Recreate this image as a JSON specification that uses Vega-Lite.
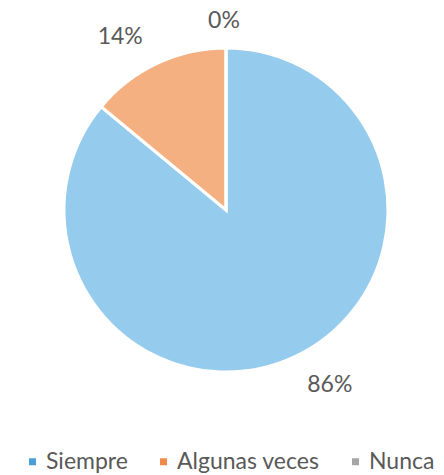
{
  "$schema": "https://vega.github.io/schema/vega-lite/v6.json",
  "autosize": {"type": "none"},
  "width": 436,
  "height": 420,
  "padding": {"left": 8, "top": 0, "right": 0, "bottom": 55},
  "background": "white",
  "data": {"values": [
    {"respuesta": "Siempre", "valor": 86, "orden": 1, "etiqueta": "86%"},
    {"respuesta": "Algunas veces", "valor": 14, "orden": 2, "etiqueta": "14%"},
    {"respuesta": "Nunca", "valor": 0, "orden": 3, "etiqueta": "0%"}
  ]},
  "encoding": {
    "theta": {"field": "valor", "type": "quantitative", "stack": true},
    "order": {"field": "orden", "type": "quantitative"}
  },
  "resolve": {"scale": {"color": "independent"}, "legend": {"color": "independent"}},
  "layer": [
    {
      "mark": {"type": "arc", "outerRadius": 162, "stroke": "white", "strokeWidth": 3},
      "encoding": {
        "color": {
          "field": "respuesta", "type": "nominal",
          "scale": {"domain": ["Siempre", "Algunas veces", "Nunca"], "range": ["#95cbec", "#f5b081", "#c8c8c8"]},
          "legend": null
        }
      }
    },
    {
      "mark": {"type": "point", "shape": "square", "filled": true, "opacity": 0},
      "encoding": {
        "theta": null,
        "order": null,
        "color": {
          "field": "respuesta", "type": "nominal",
          "scale": {"domain": ["Siempre", "Algunas veces", "Nunca"], "range": ["#4a9fd8", "#f08a4b", "#a5a5a5"]},
          "legend": {
            "title": null,
            "orient": "none",
            "legendX": 13,
            "legendY": 450,
            "direction": "horizontal",
            "symbolType": "square",
            "symbolSize": 49,
            "symbolOpacity": 1,
            "symbolStrokeWidth": 0,
            "labelFont": "Lato",
            "labelFontSize": 23,
            "labelColor": "#595959",
            "columnPadding": 24,
            "labelOffset": 2,
            "encode": {"symbols": {"update": {"opacity": {"value": 1}, "fillOpacity": {"value": 1}}}}
          }
        }
      }
    },
    {
      "mark": {"type": "text", "radius": 185, "dx": 25, "dy": 8, "font": "Lato", "fontSize": 23, "fill": "#595959"},
      "encoding": {"text": {"condition": {"test": "datum.respuesta === 'Siempre'", "field": "etiqueta"}, "value": ""}}
    },
    {
      "mark": {"type": "text", "radius": 185, "dx": -27, "dy": -6, "font": "Lato", "fontSize": 23, "fill": "#595959"},
      "encoding": {"text": {"condition": {"test": "datum.respuesta === 'Algunas veces'", "field": "etiqueta"}, "value": ""}}
    },
    {
      "mark": {"type": "text", "radius": 185, "dx": -2, "dy": -4, "font": "Lato", "fontSize": 23, "fill": "#595959"},
      "encoding": {"text": {"condition": {"test": "datum.respuesta === 'Nunca'", "field": "etiqueta"}, "value": ""}}
    }
  ],
  "config": {"view": {"stroke": null}}
}
